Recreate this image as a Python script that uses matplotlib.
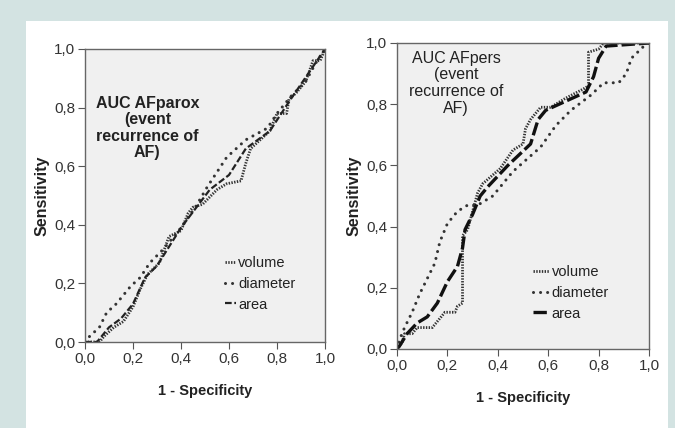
import matplotlib
matplotlib.use("Agg")
import matplotlib.pyplot as plt
from matplotlib.patches import Rectangle

plt.rcParams['font.family'] = ['Liberation Sans', 'DejaVu Sans']

# ---- data: left panel (AFparox) ----
L_vol_x = [0, 0.06, 0.08, 0.12, 0.16, 0.20, 0.23, 0.26, 0.31, 0.35, 0.40, 0.43, 0.45, 0.49, 0.55, 0.59, 0.65, 0.67, 0.69, 0.73, 0.77, 0.80, 0.84, 0.85, 0.88, 0.92, 0.95, 0.98, 1.0]
L_vol_y = [0, 0.0, 0.02, 0.05, 0.07, 0.12, 0.18, 0.23, 0.27, 0.36, 0.38, 0.44, 0.46, 0.47, 0.52, 0.54, 0.55, 0.61, 0.66, 0.69, 0.72, 0.78, 0.78, 0.83, 0.85, 0.89, 0.96, 0.96, 1.0]
L_dia_x = [0, 0.02, 0.06, 0.09, 0.13, 0.19, 0.23, 0.27, 0.33, 0.40, 0.46, 0.51, 0.55, 0.59, 0.67, 0.76, 0.80, 0.86, 0.92, 0.96, 1.0]
L_dia_y = [0, 0.02, 0.05, 0.10, 0.13, 0.19, 0.22, 0.27, 0.32, 0.39, 0.46, 0.53, 0.58, 0.63, 0.69, 0.73, 0.78, 0.84, 0.89, 0.95, 1.0]
L_area_x = [0, 0.05, 0.10, 0.15, 0.20, 0.25, 0.30, 0.40, 0.52, 0.60, 0.67, 0.77, 0.85, 0.90, 0.95, 1.0]
L_area_y = [0, 0.0, 0.05, 0.08, 0.13, 0.22, 0.26, 0.39, 0.52, 0.57, 0.66, 0.72, 0.82, 0.88, 0.94, 1.0]

# ---- data: right panel (AFpers) ----
R_vol_x = [0, 0.02, 0.03, 0.06, 0.08, 0.14, 0.16, 0.19, 0.23, 0.24, 0.26, 0.26, 0.28, 0.30, 0.32, 0.34, 0.41, 0.46, 0.50, 0.51, 0.53, 0.57, 0.61, 0.67, 0.74, 0.76, 0.76, 0.80, 0.82, 1.0]
R_vol_y = [0, 0.02, 0.05, 0.05, 0.07, 0.07, 0.09, 0.12, 0.12, 0.14, 0.15, 0.37, 0.39, 0.45, 0.51, 0.54, 0.59, 0.65, 0.67, 0.72, 0.75, 0.79, 0.79, 0.82, 0.85, 0.86, 0.97, 0.98, 1.0, 1.0]
R_dia_x = [0, 0.01, 0.03, 0.06, 0.09, 0.12, 0.15, 0.17, 0.20, 0.24, 0.28, 0.32, 0.38, 0.46, 0.57, 0.63, 0.69, 0.77, 0.82, 0.88, 0.91, 0.93, 0.98, 1.0]
R_dia_y = [0, 0.03, 0.07, 0.12, 0.18, 0.23, 0.28, 0.35, 0.41, 0.45, 0.47, 0.47, 0.50, 0.58, 0.66, 0.73, 0.78, 0.83, 0.87, 0.87, 0.90, 0.95, 0.99, 1.0]
R_area_x = [0, 0.01, 0.04, 0.08, 0.12, 0.16, 0.20, 0.24, 0.26, 0.27, 0.30, 0.33, 0.36, 0.44, 0.53, 0.56, 0.59, 0.67, 0.75, 0.78, 0.80, 0.83, 1.0]
R_area_y = [0, 0.01, 0.05, 0.085, 0.105, 0.15, 0.22, 0.27, 0.33, 0.39, 0.44, 0.50, 0.53, 0.60, 0.67, 0.75, 0.78, 0.81, 0.84, 0.89, 0.95, 0.99, 1.0]

tick_vals = [0.0, 0.2, 0.4, 0.6, 0.8, 1.0]
tick_labels = ['0,0', '0,2', '0,4', '0,6', '0,8', '1,0']
legend_labels = ['volume', 'diameter', 'area']
titles = ['AUC AFparox\n(event\nrecurrence of\nAF)', 'AUC AFpers\n(event\nrecurrence of\nAF)']

W, H = 675, 428
fig = plt.figure(figsize=(W / 100, H / 100), dpi=100)
fig.patch.set_facecolor('#d3e3e2')
fig.patches.append(Rectangle((26 / W, 0), (668 - 26) / W, (428 - 21) / H,
                             transform=fig.transFigure, facecolor='white',
                             edgecolor='none', zorder=-10))

def fbox(x0, y0, x1, y1):
    return [x0 / W, 1 - y1 / H, (x1 - x0) / W, (y1 - y0) / H]

axL = fig.add_axes(fbox(85, 49, 325, 342))
axR = fig.add_axes(fbox(397, 43, 649, 349))

vol_style = dict(color='#333333', lw=2.0, linestyle=(0, (0.5, 0.5)))
dia_style = dict(color='#333333', lw=2.2, linestyle=(0, (0.01, 2.3)), dash_capstyle='round')
area_style_L = dict(color='#222222', lw=1.6, linestyle=(0, (3, 1.2)))
area_style_R = dict(color='#111111', lw=2.4, linestyle=(0, (4, 1.2)))

def setup(ax, title, bold, tx, ty, lsp, area_style, data, leg_xy, hlen):
    ax.set_facecolor('#f0f0f0')
    (vx, vy), (dx, dy), (ax_, ay) = data
    ax.plot(vx, vy, label=legend_labels[0], **vol_style)
    ax.plot(dx, dy, label=legend_labels[1], **dia_style)
    ax.plot(ax_, ay, label=legend_labels[2], **area_style)
    ax.set_xlim(0, 1)
    ax.set_ylim(0, 1)
    ax.set_xticks(tick_vals)
    ax.set_xticklabels(tick_labels)
    ax.set_yticks(tick_vals)
    ax.set_yticklabels(tick_labels)
    ax.tick_params(direction='out', length=5, width=0.8, color='#555555',
                   labelsize=11, labelcolor='#333333', pad=2)
    for s in ax.spines.values():
        s.set_color('#666666')
        s.set_linewidth(1.0)
    ax.set_xlabel('1 - Specificity', fontsize=10.5, fontweight='bold', color='#222222', labelpad=13)
    ax.set_ylabel('Sensitivity', fontsize=11.5, fontweight='bold', color='#222222', labelpad=3)
    ax.text(tx, ty, title, transform=ax.transAxes, ha='center', va='top',
            fontsize=11.5, fontweight='bold' if bold else 'normal', color='#222222',
            linespacing=lsp)
    leg = ax.legend(loc='center left',
                    bbox_to_anchor=(leg_xy[0] / W, 1 - leg_xy[1] / H),
                    bbox_transform=fig.transFigure, frameon=False, borderpad=0,
                    handlelength=hlen, handletextpad=0.15, labelspacing=0.45,
                    fontsize=10.5)
    for t in leg.get_texts():
        t.set_color('#222222')

setup(axL, titles[0], True, 0.26, 0.84, 1.12, area_style_L,
      [(L_vol_x, L_vol_y), (L_dia_x, L_dia_y), (L_area_x, L_area_y)],
      (218, 284), 0.75)
setup(axR, titles[1], False, 0.234, 0.975, 1.15, area_style_R,
      [(R_vol_x, R_vol_y), (R_dia_x, R_dia_y), (R_area_x, R_area_y)],
      (526, 293), 1.1)

fig.savefig('out.png', dpi=100, facecolor=fig.get_facecolor())
